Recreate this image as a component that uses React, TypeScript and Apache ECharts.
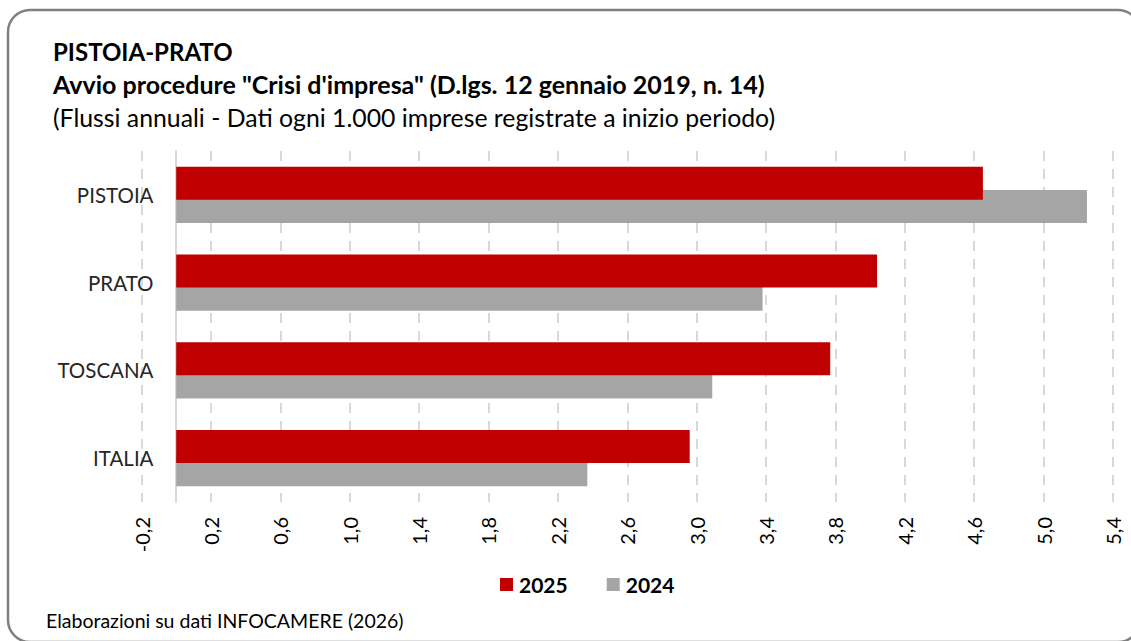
import React, { useEffect, useRef } from 'react';
import * as echarts from 'echarts';

const categories = ['PISTOIA', 'PRATO', 'TOSCANA', 'ITALIA'];
const seriesNames = ['2025', '2024'];
const values2025 = [4.65, 4.04, 3.77, 2.96];
const values2024 = [5.25, 3.38, 3.09, 2.37];
const axisMin = -0.2;
const axisMax = 5.4;
const axisStep = 0.4;
const titleLine1 = 'PISTOIA-PRATO';
const titleLine2 = 'Avvio procedure "Crisi d\'impresa" (D.lgs. 12 gennaio 2019, n. 14)';
const subtitle = '(Flussi annuali - Dati ogni 1.000 imprese registrate a inizio periodo)';
const footer = 'Elaborazioni su dati INFOCAMERE (2026)';

const FONT = 'Lato, "Open Sans", sans-serif';

export default function App() {
  const ref = useRef<HTMLDivElement>(null);
  useEffect(() => {
    document.body.style.margin = '0';
    const chart = echarts.init(ref.current!, null, { renderer: 'svg' });
    chart.setOption({
      animation: false,
      backgroundColor: '#ffffff',
      textStyle: { fontFamily: FONT },
      graphic: [
        {
          type: 'rect',
          shape: { x: 8, y: 10, width: 1132, height: 632, r: 22 },
          style: { fill: 'none', stroke: '#808080', lineWidth: 2.5 },
          silent: true,
        },
        {
          type: 'text', x: 53, y: 51,
          style: { text: titleLine1, fontFamily: FONT, fontSize: 24, fontWeight: 'bold', fill: '#000', verticalAlign: 'middle' },
        },
        {
          type: 'text', x: 53, y: 84,
          style: { text: titleLine2, fontFamily: FONT, fontSize: 25, fontWeight: 'bold', fill: '#000', verticalAlign: 'middle' },
        },
        {
          type: 'text', x: 53, y: 117,
          style: { text: subtitle, fontFamily: FONT, fontSize: 24.8, fill: '#000', verticalAlign: 'middle' },
        },
        {
          type: 'text', x: 46, y: 620,
          style: { text: footer, fontFamily: FONT, fontSize: 19.5, fill: '#000', verticalAlign: 'middle' },
        },
      ],
      legend: {
        data: seriesNames,
        left: 495,
        top: 569,
        padding: 5,
        itemWidth: 13,
        itemHeight: 13,
        itemGap: 39,
        icon: 'rect',
        textStyle: { fontFamily: FONT, fontSize: 21, fontWeight: 'bold', color: '#000', lineHeight: 20, padding: [0, 0, 0, 1] },
      },
      grid: {
        left: 141.5,
        right: 18,
        top: 151,
        bottom: 139,
        containLabel: false,
        outerBoundsMode: 'none',
      },
      xAxis: [
        {
          // data axis (values)
          type: 'value',
          position: 'top',
          min: axisMin,
          max: axisMax,
          axisLine: { show: false },
          axisTick: { show: false },
          axisLabel: { show: false },
          splitLine: { show: false },
        },
        {
          // visual axis: ticks at -0.2, 0.2, ... (shifted by axisMin)
          type: 'value',
          position: 'bottom',
          min: 0,
          max: axisMax - axisMin,
          interval: axisStep,
          axisLine: { show: false },
          axisTick: { show: false },
          axisLabel: {
            rotate: 90,
            margin: 15,
            fontFamily: FONT,
            fontSize: 20,
            color: '#000',
            formatter: (v: number) => (v + axisMin).toFixed(1).replace('.', ','),
          },
          splitLine: {
            show: true,
            lineStyle: { color: '#D9D9D9', width: 2, type: [10, 8] },
          },
        },
      ],
      yAxis: {
        type: 'category',
        data: categories,
        inverse: true,
        axisLine: {
          show: true,
          onZero: true,
          onZeroAxisIndex: 0,
          lineStyle: { color: '#D9D9D9', width: 2 },
        },
        axisTick: { show: false },
        axisLabel: { margin: -12, fontFamily: FONT, fontSize: 20.5, color: '#262626' },
        splitLine: { show: false },
      },
      series: [
        {
          name: seriesNames[0],
          type: 'bar',
          xAxisIndex: 0,
          yAxisIndex: 0,
          data: values2025,
          barWidth: 33,
          barGap: '-30%',
          itemStyle: { color: '#C00000' },
          z: 3,
        },
        {
          name: seriesNames[1],
          type: 'bar',
          xAxisIndex: 0,
          yAxisIndex: 0,
          data: values2024,
          barWidth: 33,
          barGap: '-30%',
          itemStyle: { color: '#A5A5A5' },
          z: 2,
        },
      ],
    });
    return () => chart.dispose();
  }, []);
  return <div ref={ref} style={{ width: 1131, height: 641 }} />;
}
